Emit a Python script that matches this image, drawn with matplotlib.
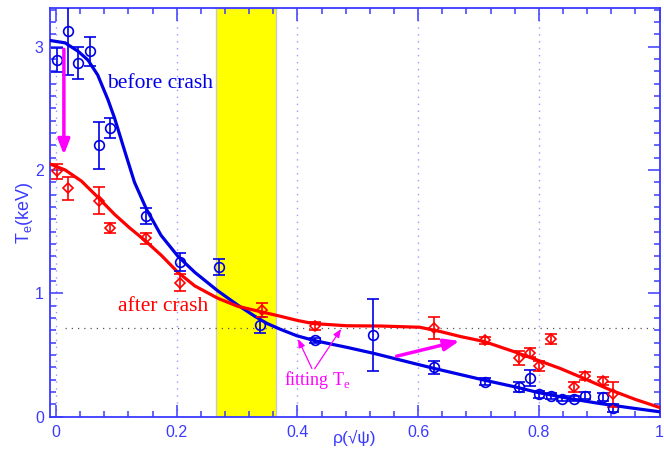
import numpy as np
import matplotlib.pyplot as plt
from matplotlib.ticker import MultipleLocator

# measured Te before the crash (blue circles)
rho_before = [0.001, 0.019, 0.036, 0.056, 0.072, 0.090, 0.149, 0.205, 0.270, 0.338,
              0.429, 0.525, 0.627, 0.711, 0.767, 0.786, 0.801, 0.820, 0.838, 0.858,
              0.877, 0.907, 0.923]
te_before = [2.89, 3.13, 2.87, 2.96, 2.20, 2.34, 1.63, 1.255, 1.215, 0.74,
             0.62, 0.66, 0.40, 0.285, 0.24, 0.31, 0.18, 0.165, 0.145, 0.145,
             0.17, 0.16, 0.07]
err_before = [0.10, 0.36, 0.13, 0.12, 0.19, 0.08, 0.065, 0.075, 0.065, 0.065,
              0.02, 0.29, 0.05, 0.03, 0.04, 0.065, 0.03, 0.025, 0.02, 0.02,
              0.03, 0.03, 0.03]

# measured Te after the crash (red diamonds)
rho_after = [0.001, 0.020, 0.072, 0.090, 0.149, 0.205, 0.341, 0.429, 0.627, 0.711,
             0.767, 0.786, 0.800, 0.820, 0.858, 0.877, 0.907, 0.923]
te_after = [1.99, 1.85, 1.75, 1.53, 1.445, 1.085, 0.865, 0.735, 0.72, 0.62,
            0.475, 0.52, 0.41, 0.63, 0.24, 0.33, 0.29, 0.18]
err_after = [0.06, 0.09, 0.11, 0.04, 0.045, 0.07, 0.06, 0.03, 0.09, 0.03,
             0.06, 0.04, 0.04, 0.04, 0.04, 0.03, 0.03, 0.10]

# fitted profiles
fit_rho_b = [-0.011, 0.015, 0.037, 0.053, 0.069, 0.086, 0.097, 0.114, 0.130, 0.150,
             0.174, 0.202, 0.230, 0.268, 0.301, 0.329, 0.350, 0.371, 0.399, 0.429,
             0.482, 0.526, 0.592, 0.626, 0.709, 0.764, 0.797, 0.850, 0.897, 0.950,
             1.0]
fit_te_b = [3.05, 3.03, 2.96, 2.89, 2.77, 2.57, 2.42, 2.15, 1.90, 1.68,
            1.47, 1.30, 1.17, 1.02, 0.905, 0.815, 0.755, 0.71, 0.656, 0.616,
            0.562, 0.514, 0.433, 0.392, 0.297, 0.238, 0.198, 0.148, 0.11, 0.073,
            0.04]

fit_rho_a = [-0.011, 0.015, 0.042, 0.069, 0.097, 0.122, 0.147, 0.174, 0.202, 0.230,
             0.268, 0.301, 0.340, 0.371, 0.400, 0.426, 0.482, 0.537, 0.603, 0.637,
             0.670, 0.709, 0.759, 0.797, 0.836, 0.870, 0.919, 0.960, 1.0]
fit_te_a = [2.05, 2.00, 1.91, 1.78, 1.64, 1.53, 1.43, 1.31, 1.17, 1.06,
            0.96, 0.895, 0.85, 0.815, 0.78, 0.755, 0.737, 0.735, 0.725, 0.69,
            0.65, 0.61, 0.527, 0.46, 0.39, 0.32, 0.216, 0.14, 0.075]

band = (0.265, 0.365)
ref_level = 0.72

BLUE = "#0000e6"
AXC = "#3a3aff"
RED = "#ff0000"
MAG = "#ff00ff"

fig = plt.figure(figsize=(6.64, 4.51), dpi=100)
ax = fig.add_axes([50 / 664, 34.3 / 451, 609.5 / 664, 408.4 / 451])

ax.axvspan(*band, facecolor="#ffff00", edgecolor="#c8c8c8", lw=1, zorder=0)
for xg in [0.0, 0.2, 0.4, 0.6, 0.8]:
    ax.axvline(xg, color="#9a9aff", lw=1, ls=(0, (1, 4)), zorder=0.5)
ax.plot([0.015, 1.0], [ref_level, ref_level], color="#555555", lw=0.9,
        ls=(0, (1, 4)), zorder=0.5)

ax.plot(fit_rho_b, fit_te_b, color=BLUE, lw=2.3, zorder=3)
ax.plot(fit_rho_a, fit_te_a, color=RED, lw=2.3, zorder=3)

ax.errorbar(rho_before, te_before, yerr=err_before, fmt="o", ms=7, mfc="none",
            mec=BLUE, mew=1.2, ecolor=BLUE, elinewidth=1.2, capsize=4.5,
            capthick=1.2, zorder=4)
ax.errorbar(rho_after, te_after, yerr=err_after, fmt="D", ms=5.5, mfc="none",
            mec=RED, mew=1.2, ecolor=RED, elinewidth=1.2, capsize=4.5,
            capthick=1.2, zorder=4)

# big magenta arrows
ax.annotate("", xy=(0.013, 2.10), xytext=(0.013, 3.0),
            arrowprops=dict(arrowstyle="-|>,head_length=0.9,head_width=0.35",
                            color=MAG, lw=2.5), zorder=5)
ax.annotate("", xy=(0.673, 0.62), xytext=(0.56, 0.485),
            arrowprops=dict(arrowstyle="-|>,head_length=0.9,head_width=0.35",
                            color=MAG, lw=2.5), zorder=5)

# fitting Te label with thin arrows
for tip in [(0.399, 0.65), (0.475, 0.73)]:
    ax.annotate("", xy=tip, xytext=(0.426, 0.37),
                arrowprops=dict(arrowstyle="-|>,head_length=0.5,head_width=0.2",
                                color=MAG, lw=0.9), zorder=5)
ax.text(0.378, 0.30, r"fitting T$_\mathregular{e}$", color=MAG, fontsize=13,
        family="Liberation Serif", va="center", ha="left", zorder=6)

ax.text(0.084, 2.70, "before crash", color=BLUE, fontsize=15.5,
        family="Liberation Serif", va="center", ha="left")
ax.text(0.102, 0.89, "after crash", color=RED, fontsize=15.5,
        family="Liberation Serif", va="center", ha="left")

ax.set_xlim(-0.01, 1.0)
ax.set_ylim(0, 3.31)
ax.xaxis.set_minor_locator(MultipleLocator(0.04))
ax.yaxis.set_minor_locator(MultipleLocator(0.1))
ax.set_xticks([0, 0.2, 0.4, 0.6, 0.8, 1.0])
ax.set_xticklabels(["0", "0.2", "0.4", "0.6", "0.8", "1"])
ax.set_yticks([0, 1, 2, 3])
ax.set_yticklabels(["0", "1", "2", "3"])

for sp in ax.spines.values():
    sp.set_color(AXC)
    sp.set_linewidth(1.3)
ax.tick_params(which="both", direction="in", top=True, right=True, colors=AXC,
               labelcolor=AXC, labelsize=11.5, width=1.1)
ax.tick_params(which="major", length=9)
ax.tick_params(which="minor", length=4.5)
ax.tick_params(axis="x", which="major", pad=6)
ax.tick_params(axis="y", which="major", pad=4.5)
for lab in ax.get_xticklabels() + ax.get_yticklabels():
    lab.set_family("Liberation Sans")

ax.set_ylabel(r"T$_\mathregular{e}$(keV)", color=AXC, fontsize=13,
              family="Liberation Sans")
ax.yaxis.set_label_coords(-0.024, 0.5)
ax.set_xlabel("ρ(√ψ)", color=AXC, fontsize=12.5, family="Liberation Sans")
ax.xaxis.set_label_coords(0.5, -0.033)

fig.savefig("out.png", dpi=100)
